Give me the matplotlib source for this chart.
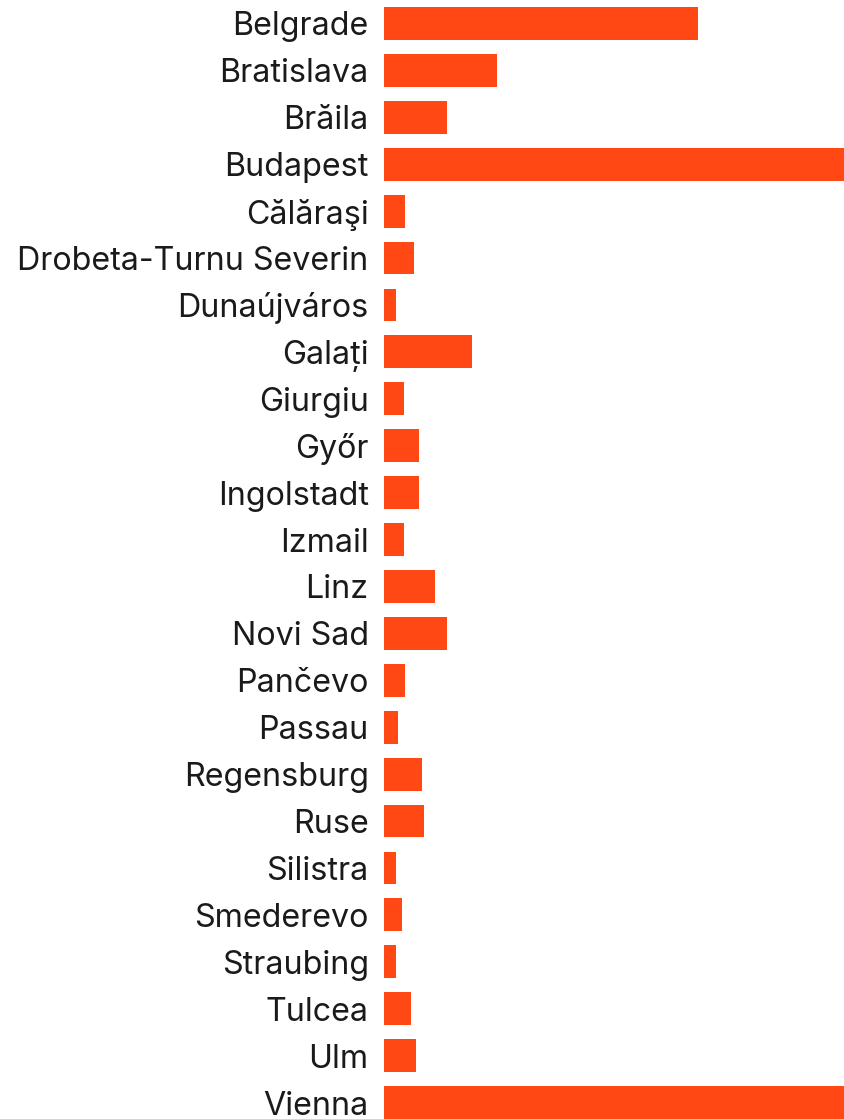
import matplotlib
matplotlib.use("Agg")
import matplotlib.pyplot as plt

plt.rcParams['font.family'] = ['Inter', 'DejaVu Sans']

cities = [
    "Belgrade", "Bratislava", "Brăila", "Budapest", "Călăraşi",
    "Drobeta-Turnu Severin", "Dunaújváros", "Galați", "Giurgiu", "Győr",
    "Ingolstadt", "Izmail", "Linz", "Novi Sad", "Pančevo", "Passau",
    "Regensburg", "Ruse", "Silistra", "Smederevo", "Straubing", "Tulcea",
    "Ulm", "Vienna",
]
values = [
    314, 113, 63, 520, 21,
    30, 12, 88, 20, 35,
    35, 20, 51, 63, 21, 14,
    38, 40, 12, 18, 12, 27,
    32, 500,
]

bar_color = "#FF4814"

W, H, DPI = 845, 1119, 100
fig = plt.figure(figsize=(W / DPI, H / DPI), dpi=DPI)
left_px = 384
ax = fig.add_axes([left_px / W, 0, 1 - left_px / W, 1])

pos = list(range(len(cities)))
ax.barh(pos, values, height=0.70, color=bar_color)

ax.set_xlim(0, W - left_px)
ax.set_ylim(23.35, -0.5)
ax.set_yticks(pos)
ax.set_yticklabels(cities, fontsize=23.2, color="#1a1a1a", va="center_baseline")
ax.tick_params(axis="y", length=0, pad=11)
ax.set_xticks([])
for s in ax.spines.values():
    s.set_visible(False)

fig.savefig("out.png", dpi=DPI)
